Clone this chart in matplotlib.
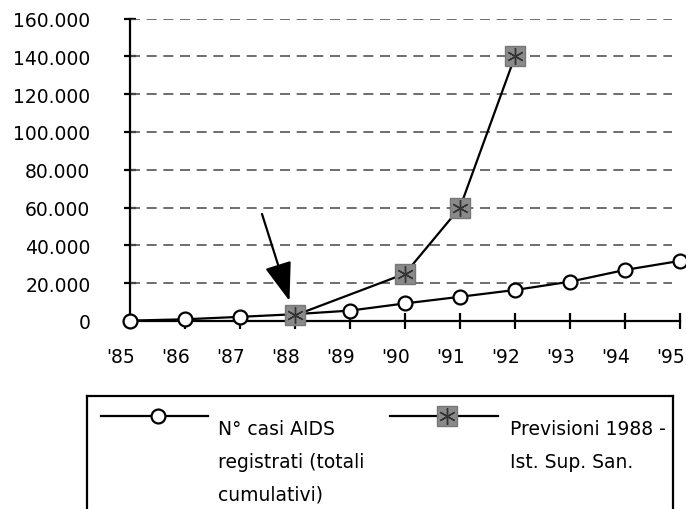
import numpy as np
import matplotlib
matplotlib.use("Agg")
import matplotlib.pyplot as plt
import matplotlib.transforms as mtransforms
from matplotlib.lines import Line2D

# data ----------------------------------------------------------------------
years = [1985, 1986, 1987, 1988, 1989, 1990, 1991, 1992, 1993, 1994, 1995]
year_labels = ["'85", "'86", "'87", "'88", "'89", "'90", "'91", "'92", "'93", "'94", "'95"]
casi_aids = [200, 900, 2200, 3600, 5500, 9300, 12800, 16400, 20800, 27000, 31800]

prev_years = [1988, 1990, 1991, 1992]
previsioni = [3000, 25000, 60000, 140000]

y_ticks = [0, 20000, 40000, 60000, 80000, 100000, 120000, 140000, 160000]
y_labels = ["0", "20.000", "40.000", "60.000", "80.000", "100.000", "120.000", "140.000", "160.000"]

label_casi = "N° casi AIDS\nregistrati (totali\ncumulativi)"
label_prev = "Previsioni 1988 -\nIst. Sup. San."

plt.rcParams['font.family'] = ['DejaVu Sans']
W, H = 686, 510
fig = plt.figure(figsize=(W / 100, H / 100), dpi=100)

# main plot -------------------------------------------------------------------
ax = fig.add_axes([130 / W, 1 - 322 / H, 550 / W, 302.5 / H])
ax.set_xlim(1985, 1995)
ax.set_ylim(0, 160000)

# dashed grid lines (stop a bit before the right end, like the original)
ax.hlines(y_ticks[1:], 1985, 1994.85, colors='#555555', linestyles=(0, (6, 4)), linewidth=1.2)

ax.plot(years, casi_aids, color='black', lw=1.6, marker='o', ms=10,
        mfc='white', mec='black', mew=1.6, clip_on=False, zorder=4)

ax.plot(prev_years, previsioni, color='black', lw=1.6, marker='s', ms=14,
        mfc='#8a8a8a', mec='#777777', mew=1, clip_on=False, zorder=5)
ax.plot(prev_years, previsioni, linestyle='none', marker=(6, 2, 0), ms=12,
        mec='#333333', mew=1.0, clip_on=False, zorder=6)

# arrow pointing at the 1988 forecast
ax.annotate("", xy=(1987.9, 10600), xytext=(1987.4, 56600),
            arrowprops=dict(arrowstyle='-|>,head_length=1.2,head_width=0.42',
                            color='black', lw=1.6, mutation_scale=20,
                            shrinkA=0, shrinkB=0))

for side in ['top', 'right']:
    ax.spines[side].set_visible(False)
for side in ['left', 'bottom']:
    ax.spines[side].set_linewidth(1.6)
    ax.spines[side].set_zorder(3)

ax.set_yticks(y_ticks)
ax.set_yticklabels(y_labels)
ax.set_xticks(years)
ax.set_xticklabels(year_labels)
ax.tick_params(axis='y', direction='inout', length=9, width=1.6, pad=24, labelsize=13.5)
ax.tick_params(axis='x', direction='inout', length=12, width=1.6, pad=13, labelsize=13.5)
shift = mtransforms.ScaledTranslation(-9 / 100, 0, fig.dpi_scale_trans)
for lab in ax.get_xticklabels():
    lab.set_transform(lab.get_transform() + shift)

# legend box (drawn by hand, its bottom runs off the picture) -----------------
top = 397
lg = fig.add_axes([87 / W, -0.05, 586 / W, (H - top) / H + 0.05])
lg.set_xlim(87, 673)
lg.set_ylim(H + 0.05 * H, top)
lg.set_xticks([])
lg.set_yticks([])
for side in lg.spines.values():
    side.set_linewidth(1.6)

lg.add_line(Line2D([101, 208], [417, 417], color='black', lw=1.6))
lg.plot([158], [417], marker='o', ms=10, mfc='white', mec='black', mew=1.6)
for i, line in enumerate(label_casi.split("\n")):
    lg.text(218, 430 + i * 32.5, line, fontsize=13.5, va='center', ha='left')

lg.add_line(Line2D([390, 498], [417, 417], color='black', lw=1.6))
lg.plot([447], [417], marker='s', ms=15, mfc='#8a8a8a', mec='#777777', mew=1)
lg.plot([447], [417], marker=(6, 2, 0), ms=12, mec='#333333', mew=1.0)
for i, line in enumerate(label_prev.split("\n")):
    lg.text(510, 430 + i * 32.5, line, fontsize=13.5, va='center', ha='left')

fig.savefig("out.png", dpi=100)
